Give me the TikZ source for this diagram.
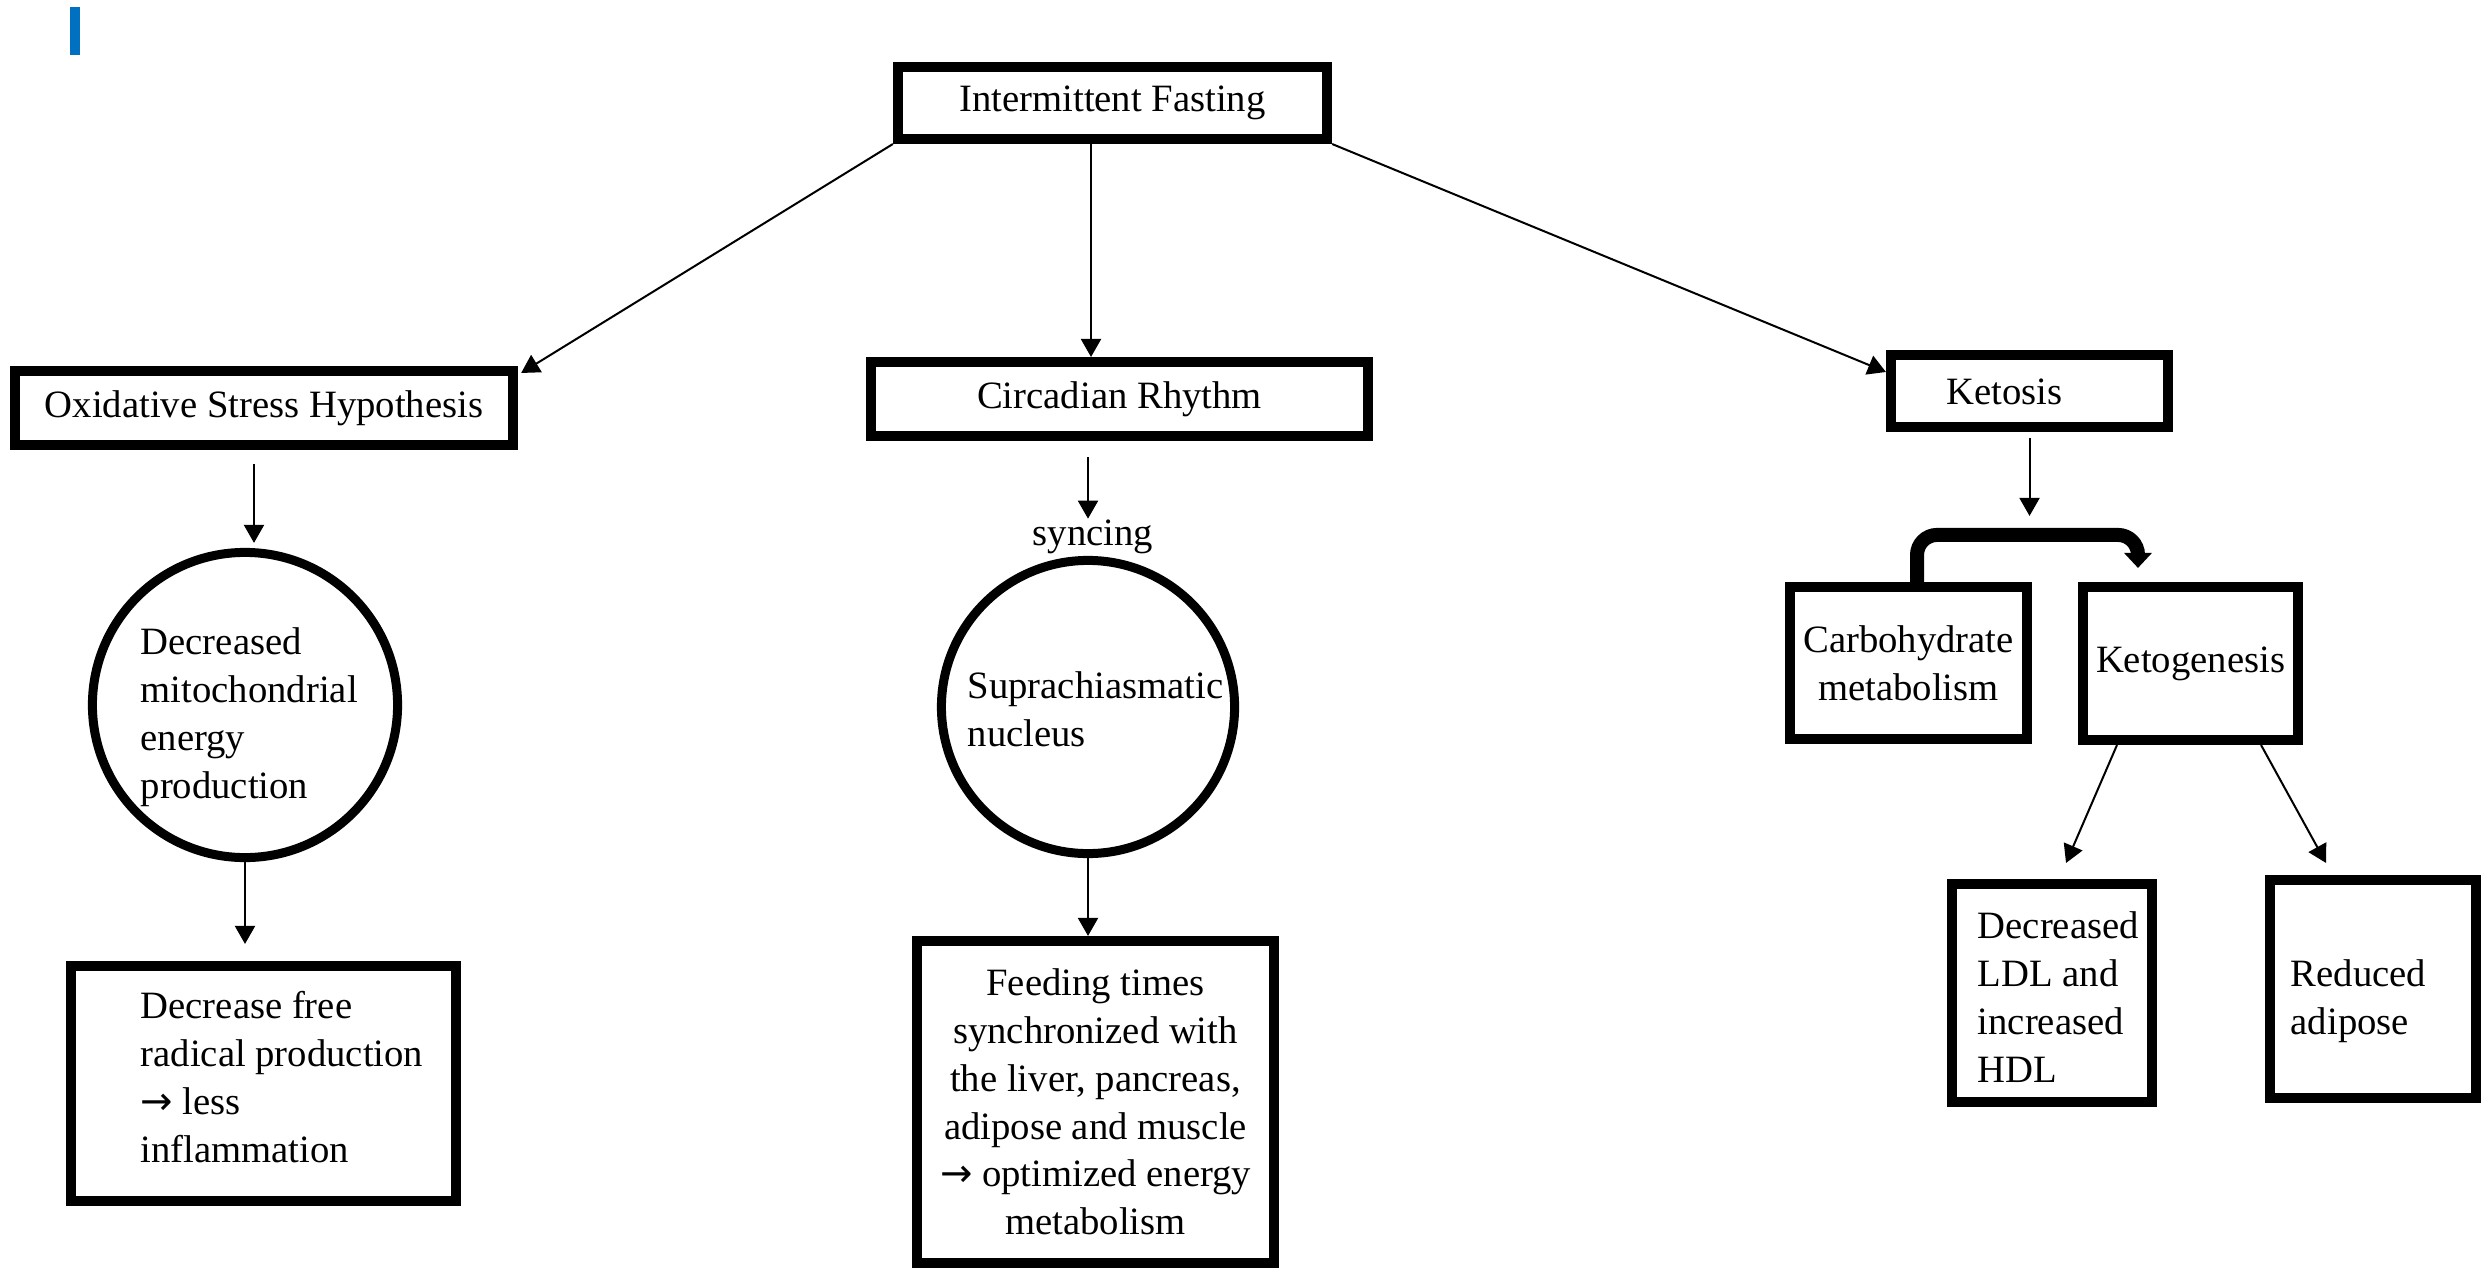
\documentclass[tikz,border=0pt]{standalone}
\usepackage{fontspec}
\setmainfont{Liberation Serif}
\newfontfamily\arrowfont{DejaVu Sans}
\usetikzlibrary{arrows.meta}
\definecolor{barblue}{RGB}{0,112,192}
\newcommand{\myarrow}{{\arrowfont\char"2192}}
\begin{document}
\begin{tikzpicture}[x=0.01cm,y=-0.01cm,
  font=\fontsize{11pt}{13.6pt}\selectfont,
  box/.style={draw, line width=0.1cm, inner sep=0pt, align=center},
  ring/.style={draw, circle, line width=0.09cm, inner sep=0pt},
  txt/.style={inner sep=0pt, align=left},
  arr/.style={-{Triangle[length=0.18cm,width=0.2cm]}, line width=0.02cm},
  bracketarrow/.style={-{Triangle[length=0.15cm,width=0.27cm]}, line width=0.14cm, rounded corners=0.2cm}]
\useasboundingbox (0,0) rectangle (2486,1270);
\fill[barblue] (70,7) rectangle (80,55);

% boxes
\node[box, minimum width=4.29cm, minimum height=0.72cm] (if) at (1112.5,103) {Intermittent Fasting};
\node[box, minimum width=4.98cm, minimum height=0.74cm] (osh) at (264,408) {Oxidative Stress Hypothesis};
\node[box, minimum width=4.97cm, minimum height=0.74cm] (cr) at (1119.5,399) {Circadian Rhythm};
\node[box, minimum width=2.77cm, minimum height=0.72cm] (ket) at (2029.5,391) {};
\node[txt, anchor=base west] (kett) at (1946,404) {Ketosis};
\node[box, minimum width=2.37cm, minimum height=1.52cm] (carb) at (1908.5,663) {Carbohydrate\\metabolism};
\node[box, minimum width=2.15cm, minimum height=1.53cm] (keto) at (2190.5,663.5) {Ketogenesis};
\node[box, minimum width=2.00cm, minimum height=2.18cm] (ldl) at (2052,993) {};
\node[box, minimum width=2.06cm, minimum height=2.18cm] (ra) at (2373,989) {};
\node[ring, minimum size=3.05cm] (c1) at (245,705) {};
\node[ring, minimum size=2.93cm] (c2) at (1088,707) {};
\node[box, minimum width=3.85cm, minimum height=2.35cm] (dfr) at (263.5,1083.5) {};
\node[box, minimum width=3.57cm, minimum height=3.22cm] (feed) at (1095.5,1102) {Feeding times\\synchronized with\\the liver, pancreas,\\adipose and muscle\\\myarrow{} optimized energy\\metabolism};
\node[txt, anchor=base] (sync) at (1093,545) {syncing};

% texts placed inside shapes
\node[txt, anchor=north west] (c1t) at (140,627) {Decreased\\mitochondrial\\energy\\production};
\node[txt, anchor=north west] (dfrt) at (140,991) {Decrease free\\radical production\\\myarrow{} less\\inflammation};
\node[txt, anchor=north west] (c2t) at (967,671) {Suprachiasmatic\\nucleus};
\node[txt, anchor=north west] (ldlt) at (1977,911) {Decreased\\LDL and\\increased\\HDL};
\node[txt, anchor=north west] (rat) at (2290,959) {Reduced\\adipose};

% connectors
\draw[arr] (if.south west) -- ([xshift=0.03cm,yshift=-0.07cm]osh.north east);
\draw[arr] ([xshift=-0.215cm]if.south) -- ([xshift=-0.215cm]if.south |- cr.north);
\draw[arr] (if.south east) -- ([yshift=0.19cm]ket.west);
\draw[arr] ([xshift=-0.1cm,yshift=-0.14cm]osh.south) -- ([xshift=-0.1cm,yshift=0.05cm]osh.south |- c1.north);
\draw[arr] (c1.south) -- ([yshift=0.17cm]c1.south |- dfr.north);
\draw[arr] ([yshift=-0.16cm]cr.south -| c2.north) -- (sync.north -| c2.north);
\draw[arr] (c2.south) -- (c2.south |- feed.north);
\draw[arr] ([yshift=-0.06cm]ket.south) -- ([yshift=0.66cm]ket.south |- carb.north);
\draw[bracketarrow] ([xshift=0.085cm]carb.north) |- ([xshift=-0.525cm,yshift=0.47cm]keto.north) -- ([xshift=-0.525cm,yshift=0.14cm]keto.north);
\draw[arr] ([xshift=-0.735cm]keto.south) -- ([xshift=0.14cm,yshift=0.16cm]ldl.north);
\draw[arr] ([xshift=0.705cm]keto.south) -- ([xshift=-0.47cm,yshift=0.12cm]ra.north);
\end{tikzpicture}
\end{document}
